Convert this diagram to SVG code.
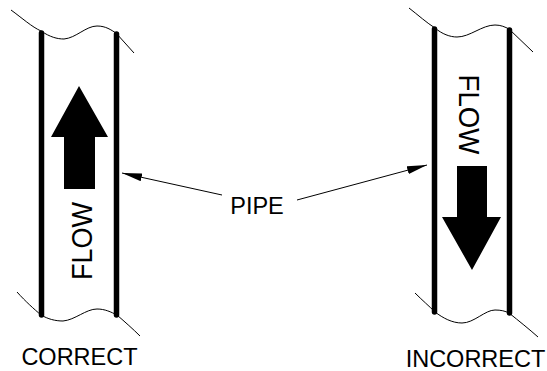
<svg xmlns="http://www.w3.org/2000/svg" width="547" height="371" viewBox="0 0 547 371">
<style>
.wall{stroke:#000;stroke-width:5.5;stroke-linecap:round;fill:none}
.wave{stroke:#000;stroke-width:1;fill:none}
.lbl{font-family:"Liberation Sans",Arial,sans-serif;font-size:23.5px;fill:#000;text-anchor:middle}
.flow{font-family:"Liberation Sans",Arial,sans-serif;font-size:30px;fill:#000;text-anchor:middle}
.lead{stroke:#000;stroke-width:1;fill:none;marker-end:url(#ah)}
</style>
<defs>
<marker id="ah" markerUnits="userSpaceOnUse" viewBox="0 0 20 8" refX="20" refY="4" markerWidth="20" markerHeight="8" orient="auto">
<path d="M0,0 L20,4 L0,8 Z" fill="#000"/>
</marker>
</defs>
<rect width="547" height="371" fill="#fff"/>
<g id="pipe-correct">
<path class="wave" d="M11,10 C22,18 32,27 41,31 C50,37 57,39 64,39 C76,38 86,26 97,26 C106,26 111,30 116,33 C122,40 128,46 134,53"/>
<path class="wave" d="M17,292 C26,302 34,309 41,315 C48,319 55,321 63,321 C75,320 86,309 97,309 C105,309 111,312 117,315 C125,322 133,329 140,336"/>
<line class="wall" x1="41.5" y1="33" x2="41.5" y2="315"/>
<line class="wall" x1="116.5" y1="34" x2="116.5" y2="315"/>
<polygon points="79,86 108,137 95,137 95,189 64,189 64,137 51,137" fill="#000"/>
<text class="flow" transform="translate(92,241) rotate(-90)" x="0" y="0" textLength="78" lengthAdjust="spacingAndGlyphs">FLOW</text>
</g>
<g id="pipe-incorrect">
<path class="wave" d="M409,8 C418,15 427,23 435,28 C442,34 450,37 457,37 C470,37 482,25 495,25 C501,25 505,27 509,29 C517,37 525,44 533,52"/>
<path class="wave" d="M415,293 C422,300 429,306 435,312 C443,318 452,323 462,323 C474,323 485,310 495,310 C501,310 505,311 509,313 C519,321 529,329 538,337"/>
<line class="wall" x1="434.5" y1="29" x2="434.5" y2="312"/>
<line class="wall" x1="509.5" y1="30" x2="509.5" y2="313"/>
<polygon points="457,166 487,166 487,217 501,217 472,270 442,217 457,217" fill="#000"/>
<text class="flow" transform="translate(459,114.5) rotate(90)" x="0" y="0" textLength="80" lengthAdjust="spacingAndGlyphs">FLOW</text>
</g>
<g id="label-pipe">
<text class="lbl" x="257" y="214">PIPE</text>
</g>
<g id="caption-correct">
<text class="lbl" x="79.5" y="365">CORRECT</text>
</g>
<g id="caption-incorrect">
<text class="lbl" x="475.5" y="367">INCORRECT</text>
</g>
<g id="connectors">
<line class="lead" x1="222" y1="195" x2="122" y2="173"/>
<line class="lead" x1="297" y1="200" x2="427" y2="165"/>
</g>
</svg>
